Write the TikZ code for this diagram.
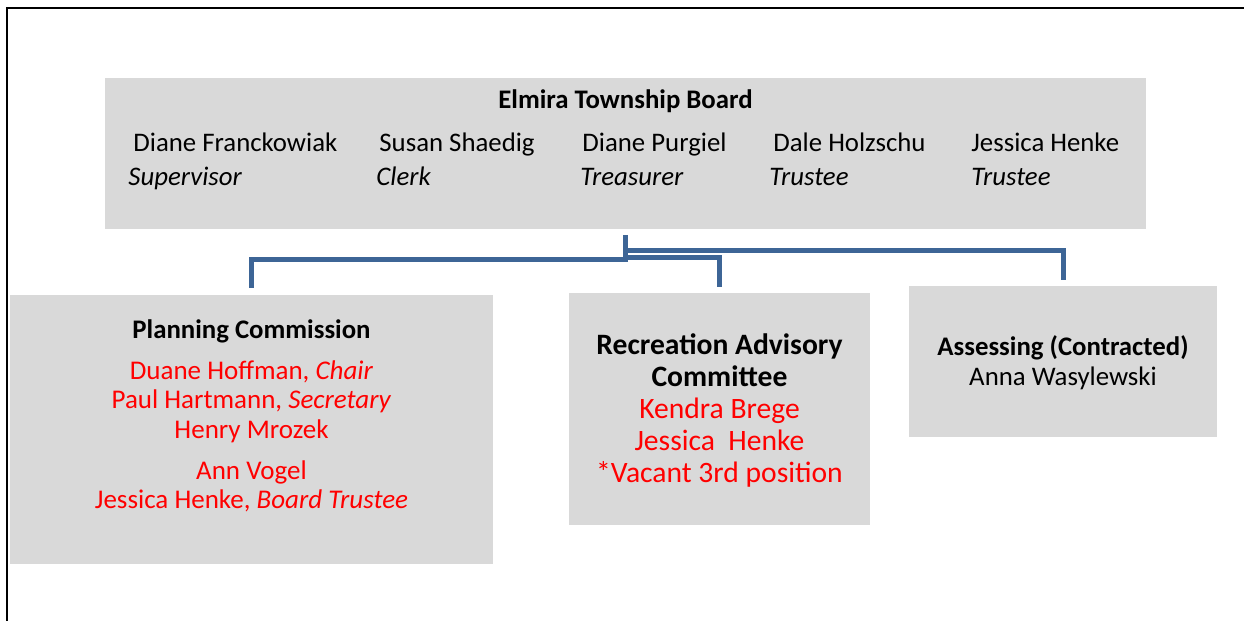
\documentclass[tikz,border=0pt]{standalone}
\usepackage{fontspec}
\setmainfont{Carlito}
\usetikzlibrary{positioning}
\definecolor{boxgray}{HTML}{D9D9D9}
\definecolor{linkblue}{RGB}{61,101,150}
\definecolor{namered}{HTML}{FF0000}

\begin{document}
\begin{tikzpicture}[x=0.5pt, y=-0.5pt,
    box/.style={fill=boxgray, inner sep=0pt, anchor=north west},
    title/.style={font=\bfseries\fontsize{13.4}{16}\selectfont, inner sep=0pt, anchor=base},
    member/.style={font=\fontsize{13.4}{16}\selectfont, inner sep=0pt, anchor=base west},
    redline/.style={text=namered, font=\fontsize{13.5}{16}\selectfont, inner sep=0pt, anchor=base},
    link/.style={draw=linkblue, line width=2.5pt}
    ]
    \useasboundingbox (0,0) rectangle (1244,621);

    % page frame, top and left only
    \draw[line width=1pt] (7,621) -- (7,8) -- (1244,8);

    % Township board
    \node[box, minimum width=520.5pt, minimum height=75.5pt] (board) at (105,78) {};
    \node[title] (boardtitle) at (625.5,108.5) {Elmira Township Board};
    \foreach \nx/\rx/\who/\post [count=\i] in {133/128/Diane Franckowiak/Supervisor,
        379/376/Susan Shaedig/Clerk, 582/580/Diane Purgiel/Treasurer,
        773/769/Dale Holzschu/Trustee, 971/971/Jessica Henke/Trustee}{
      \node[member] (name\i) at (\nx,151.5) {\who};
      \node[member] (role\i) at (\rx,185.5) {\textit{\post}};
    }

    % Planning commission
    \node[box, minimum width=241.5pt, minimum height=134.5pt] (planning) at (10,295) {};
    \node[title] (pctitle) at (251.5,338.5) {Planning Commission};
    \foreach \y/\txt [count=\i] in {379/{Duane Hoffman, \textit{Chair}},
        408/{Paul Hartmann, \textit{Secretary}}, 438/{Henry Mrozek},
        479/{Ann Vogel}, 508/{Jessica Henke, \textit{Board Trustee}}}{
      \node[redline] (pc\i) at (251.5,\y) {\txt};
    }

    % Recreation advisory committee
    \node[box, minimum width=150.5pt, minimum height=116pt] (recreation) at (569,293) {};
    \node[title, font=\bfseries\fontsize{14.8}{18}\selectfont] (rectitle1) at (719.5,354) {Recreation Advisory};
    \node[title, font=\bfseries\fontsize{14.8}{18}\selectfont] (rectitle2) at (719.5,386) {Committee};
    \foreach \y/\txt [count=\i] in {418/{Kendra Brege}, 450/{Jessica\ \ Henke},
        482/{*Vacant 3rd position}}{
      \node[redline, font=\fontsize{14.8}{18}\selectfont] (rec\i) at (719.5,\y) {\txt};
    }

    % Assessing
    \node[box, minimum width=154pt, minimum height=75.5pt] (assessing) at (909,286) {};
    \node[title] (astitle) at (1063,355.5) {Assessing (Contracted)};
    \node[title, font=\fontsize{13.4}{16}\selectfont] (asname) at (1063,385.5) {Anna Wasylewski};

    % connectors
    \draw[link] ([yshift=-2.5pt]board.south) -- ++(0,25) -| ([yshift=3.5pt]planning.north);
    \draw[link] ([yshift=-2.5pt]board.south) ++(0,23) -| ([yshift=3pt]recreation.north);
    \draw[link] ([yshift=-2.5pt]board.south) ++(0,16) -| ([yshift=3pt]assessing.north);
\end{tikzpicture}
\end{document}
